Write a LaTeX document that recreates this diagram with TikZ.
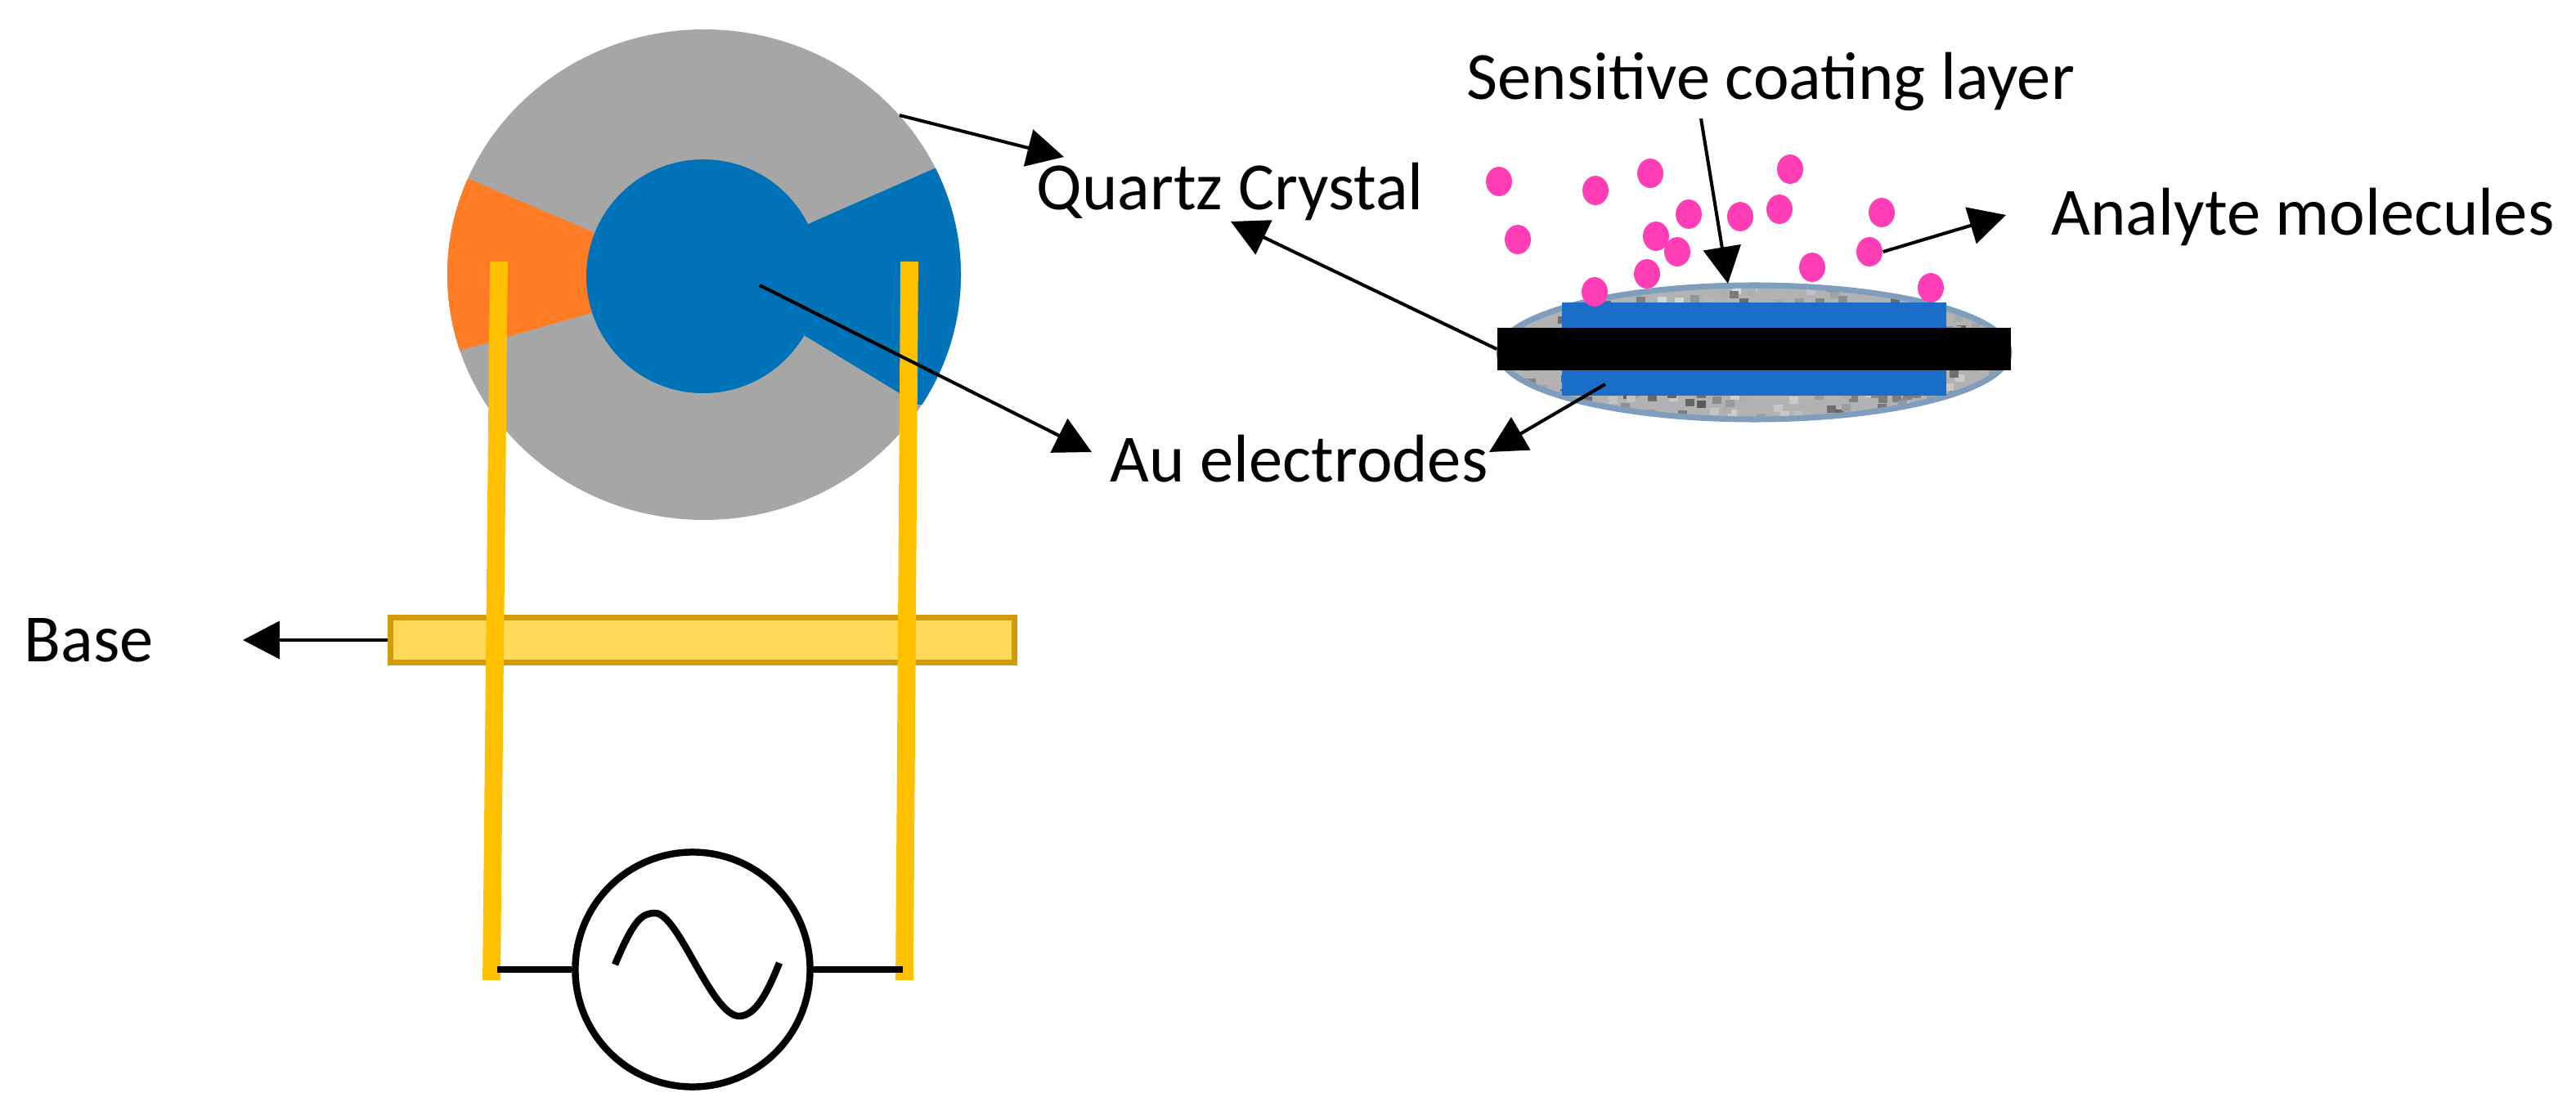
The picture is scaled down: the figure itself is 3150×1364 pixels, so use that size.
\documentclass[tikz,border=0pt]{standalone}
\usepackage{fontspec}
\setmainfont{Carlito}
\usetikzlibrary{arrows.meta}
\usetikzlibrary{shapes.geometric}
\definecolor{quartz}{HTML}{A6A6A6}
\definecolor{goldblue}{HTML}{0072B8}
\definecolor{coatblue}{HTML}{1A6EC8}
\definecolor{contact}{HTML}{FF7C25}
\definecolor{lead}{HTML}{FFC000}
\definecolor{rim}{HTML}{7F9DBD}
\definecolor{molecule}{HTML}{FF3DB5}
\tikzset{
    pointer/.style={draw=black, line width=1.15pt, -{Triangle[length=45*0.2835pt, width=46*0.2835pt]}},
    label/.style={font=\fontsize{23.5}{26}\selectfont, inner sep=0pt, anchor=base west},
    leadwire/.style={draw=lead, line width=6.2pt},
    wire/.style={draw=black, line width=2.4pt},
    dot/.style={fill=molecule, draw=none, ellipse, minimum width=32*0.2835pt, minimum height=36*0.2835pt, inner sep=0pt}
}
\begin{document}
\begin{tikzpicture}[x=0.01cm, y=-0.01cm]
    \useasboundingbox (0,0) rectangle (3150,1364);

    % crystal, front view
    \fill[quartz] (861,336) ellipse [x radius=314, y radius=300];
    \begin{scope}
        \clip (861,336) ellipse [x radius=314, y radius=300];
        \fill[contact] (571,218) -- (725,284) -- (725,382) -- (555,431) -- (500,420) -- (500,210) -- cycle;
        \fill[goldblue] (1143,206) -- (995,271) -- (860,338) -- (993,416) -- (1123,495) -- (1250,495) -- (1250,206) -- cycle;
    \end{scope}
    \fill[goldblue] (860,338) ellipse [x radius=143, y radius=143];

    % base
    \node[draw={rgb,255:red,210;green,155;blue,10}, line width=2pt, fill={rgb,255:red,255;green,217;blue,90}, minimum width=765*0.2835pt, minimum height=56*0.2835pt, inner sep=0pt] (base) at (859,783) {};

    % leads
    \coordinate (lefttop) at (610,320);
    \coordinate (leftend) at (601,1199);
    \coordinate (righttop) at (1112,320);
    \coordinate (rightend) at (1106,1199);
    \draw[leadwire] (lefttop) -- (leftend);
    \draw[leadwire] (righttop) -- (rightend);

    % source
    \node[draw=black, line width=2.4pt, circle, minimum size=288*0.2835pt, inner sep=0pt] (source) at (847,1186) {};
    \draw[wire] (608,1186) -- (source.west);
    \draw[wire] (source.east) -- (1104,1186);
    \draw[wire] (752,1180) .. controls (775,1125) and (785,1117) .. (801,1117)
        .. controls (830,1117) and (870,1243) .. (904,1243)
        .. controls (925,1243) and (940,1210) .. (953,1178);

    % crystal, side view
    \begin{scope}
        \clip (2145,431) ellipse [x radius=314, y radius=84];
        \fill[gray!60] (1800,340) rectangle (2480,520);
        \pgfmathsetseed{7}
        \foreach \i in {1,...,420} {
            \pgfmathsetmacro{\gx}{1830+630*rnd}
            \pgfmathsetmacro{\gy}{345+172*rnd}
            \pgfmathsetmacro{\gs}{15+50*rnd}
            \fill[black!\gs] (\gx,\gy) rectangle ++(11,9);
        }
    \end{scope}
    \draw[rim, line width=2pt] (2145,431) ellipse [x radius=312, y radius=82];
    \node[fill=coatblue, minimum width=472*0.2835pt, minimum height=115*0.2835pt, inner sep=0pt] (electrode) at (2145,427) {};
    \node[fill=black, minimum width=630*0.2835pt, minimum height=52*0.2835pt, inner sep=0pt] (bar) at (2145,427) {};

    % molecules
    \foreach \px/\py [count=\n] in {1833/222, 1951/233, 2018/212, 2189/207, 1856/293, 2065/262, 2128/265, 2176/256, 2301/260, 2025/289, 2051/308, 2286/308, 2216/327, 2014/335, 1950/357, 2361/352}
        \node[dot] (mol\n) at (\px,\py) {};

    % labels
    \node[label] (quartz) at (1267,257) {Quartz Crystal};
    \node[label] (coating) at (1793,122) {Sensitive coating layer};
    \node[label] (analyte) at (2508,288) {Analyte molecules};
    \node[label] (au) at (1357,590) {Au electrodes};
    \node[label] (baselabel) at (29,810) {Base};

    % pointers
    \coordinate (q1) at (1100,141);
    \coordinate (q1tip) at (1301,192);
    \coordinate (q2tip) at (1505,271);
    \coordinate (a1) at (929,349);
    \coordinate (a1tip) at (1335,553);
    \coordinate (a2) at (1963,470);
    \coordinate (a2tip) at (1821,553);
    \coordinate (s1) at (2080,145);
    \coordinate (s1tip) at (2113,347);
    \coordinate (m1tip) at (2453,263);
    \coordinate (b1tip) at (297,783);
    \draw[pointer] (q1) -- (q1tip);
    \draw[pointer] (a1) -- (a1tip);
    \draw[pointer] (a2) -- (a2tip);
    \draw[pointer] (bar.west) -- (q2tip);
    \draw[pointer] (s1) -- (s1tip);
    \draw[pointer] (mol12.east) -- (m1tip);
    \draw[pointer] (base.west) -- (b1tip);
\end{tikzpicture}
\end{document}
